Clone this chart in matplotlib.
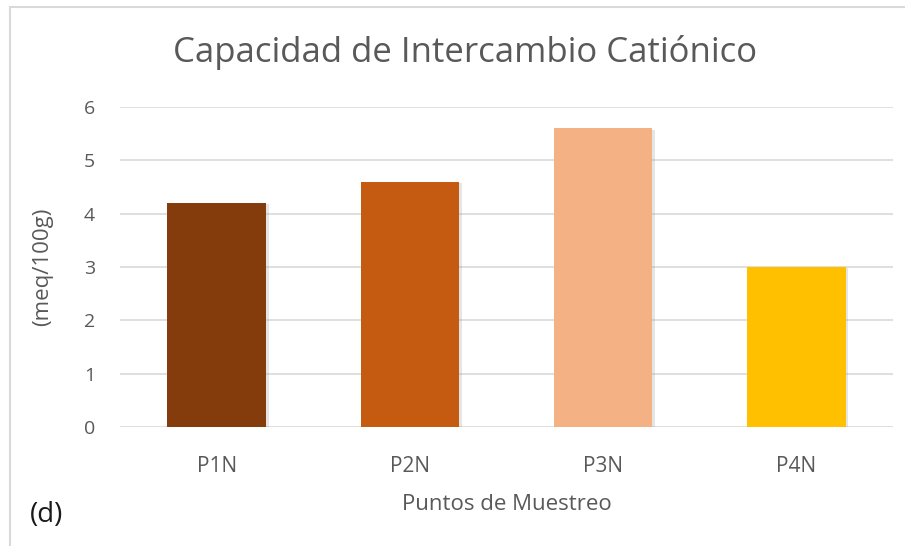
import matplotlib.pyplot as plt
from matplotlib.patches import Rectangle
import matplotlib.patheffects as pe

# CIC per sampling point
puntos = ["P1N", "P2N", "P3N", "P4N"]
cic = [4.2, 4.6, 5.6, 3.0]
colores = ["#843C0C", "#C55A11", "#F4B183", "#FFC000"]
yticks = [0, 1, 2, 3, 4, 5, 6]

plt.rcParams['font.family'] = ['Open Sans', 'DejaVu Sans']
gris = "#595959"

fig = plt.figure(figsize=(9.05, 5.46), dpi=100)
ax = fig.add_axes([0.1326, 0.218, 0.854, 0.586])

x = range(len(puntos))
bars = ax.bar(x, cic, width=0.51, color=colores, zorder=3)
for b in bars:
    b.set_path_effects([pe.SimplePatchShadow(offset=(2, -1), shadow_rgbFace="#999999", alpha=0.25),
                        pe.Normal()])

ax.set_xlim(-0.5, 3.5)
ax.set_ylim(0, 6)
ax.set_yticks(yticks)
ax.set_xticks(list(x))
ax.set_xticklabels(puntos)
ax.grid(axis='y', color="#d9d9d9", linewidth=1.2, zorder=0)
for s in ax.spines.values():
    s.set_visible(False)
ax.tick_params(length=0, colors=gris)
ax.tick_params(axis='y', pad=18, labelsize=14)
ax.tick_params(axis='x', pad=21, labelsize=15)

ax.set_ylabel("(meq/100g)", fontsize=16, color=gris, labelpad=22)
ax.set_xlabel("Puntos de Muestreo", fontsize=16, color=gris, labelpad=12)

fig.text(0.514, 0.903, "Capacidad de Intercambio Catiónico", ha='center', va='center',
         fontsize=25, color=gris)
fig.text(0.033, 0.057, "(d)", fontsize=20, color="#1a1a1a", va='center', ha='left')

# outer frame
fig.patches.append(Rectangle((0.0105, -0.1), 1.2, 1.087, transform=fig.transFigure,
                             fill=False, edgecolor="#d9d9d9", linewidth=1.5))

fig.savefig("out.png", dpi=100, facecolor="white")
